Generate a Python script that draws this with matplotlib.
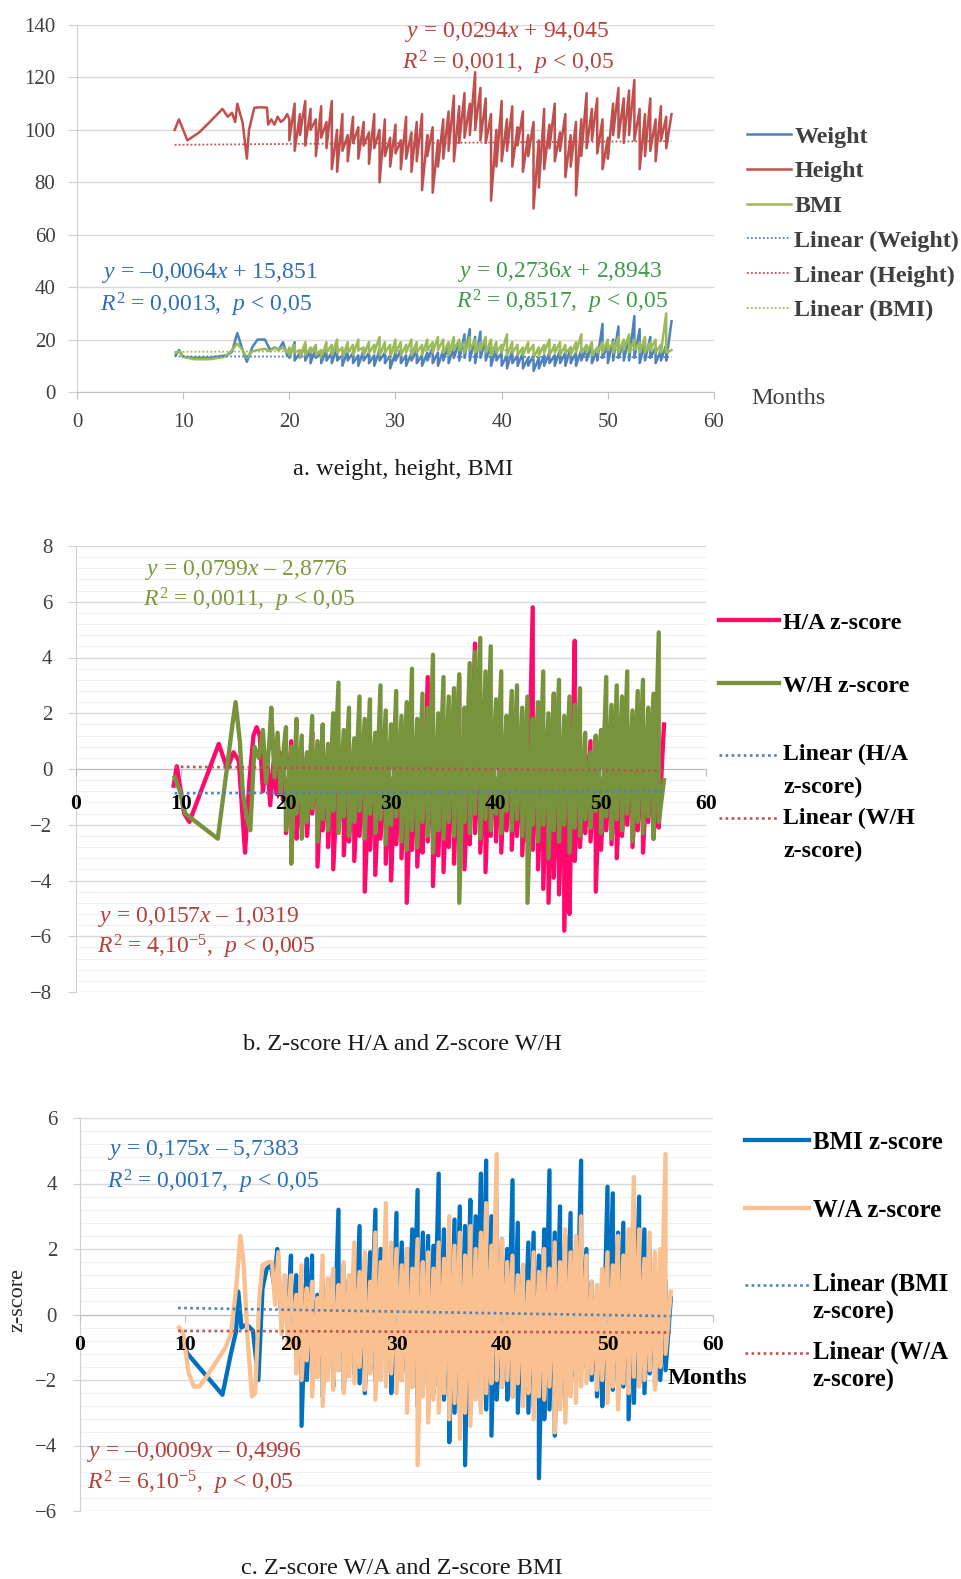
import numpy as np
import matplotlib
matplotlib.use('Agg')
from matplotlib import pyplot as plt
from matplotlib.ticker import MultipleLocator
from matplotlib.legend_handler import HandlerLine2D

plt.rcParams['font.family'] = ['Liberation Serif', 'DejaVu Serif']
plt.rcParams['mathtext.fontset'] = 'custom'
plt.rcParams['mathtext.rm'] = 'Liberation Serif'
plt.rcParams['mathtext.it'] = 'Liberation Serif:italic'
plt.rcParams['mathtext.bf'] = 'Liberation Serif:bold'

W, H = 962, 1579

# from month 20 to 56 the measurements are dense: two values (children) every half month
DENSE_START, DENSE_STEP = 20, 0.5

# ---------------- a. weight, height, BMI ----------------
height_early_x = [9.2, 9.6, 9.9, 10.4, 11.5, 12.5, 13.7, 14.2, 14.6, 14.9, 15.1, 15.6,
                  16.0, 16.2, 16.7, 17.2, 17.9, 18.0, 18.3, 18.6, 18.9, 19.2, 19.5, 19.8]
height_early_y = [100, 104, 101, 96, 99, 103, 108, 105, 106.5, 103, 110, 102.7,
                  89, 100, 108.4, 108.6, 108.5, 102, 104, 102, 105, 103, 104, 106]
height_dense = [
    104, 96, 110, 92, 106, 98, 111, 94, 108, 100, 104, 90, 109, 97, 103, 93,
    111, 85, 100, 84, 106, 92, 98, 88, 105, 95, 101, 89, 103, 94, 99, 87,
    106, 93, 100, 80, 104, 90, 97, 86, 102, 91, 96, 85, 105, 89, 99, 84,
    103, 88, 106, 77, 98, 90, 101, 76, 96, 86, 104, 89, 107, 92, 113, 88,
    109, 95, 114, 97, 110, 98, 122, 100, 116, 96, 112, 95, 106, 73, 100, 86,
    111, 88, 104, 92, 109, 86, 101, 94, 107, 84, 98, 90, 103, 70, 96, 78,
    108, 85, 102, 93, 110, 88, 99, 92, 106, 82, 98, 86, 103, 75, 104, 90,
    114, 93, 108, 96, 112, 91, 104, 85, 97, 89, 110, 98, 116, 97, 112, 95,
    115, 98, 119, 96, 108, 85, 106, 90, 112, 92, 104, 88, 109, 96, 105, 93,
    106]

weight_early_x = [9.3, 9.6, 10.0, 11.0, 12.5, 14.1, 14.6, 15.1, 15.6, 16.0, 16.5, 17.0,
                  17.7, 18.2, 18.6, 19.0, 19.4, 19.8]
weight_early_y = [14, 16, 13.4, 13, 13, 14, 15.3, 22.5, 16, 11.5, 17, 20,
                  20, 16, 17, 16, 19, 14]
weight_dense = [
    16, 13, 19, 12, 15, 13, 18, 12, 16, 11, 17, 13, 15, 11, 16, 12,
    15, 11, 17, 12, 14, 10, 16, 12, 15, 11, 14, 10, 16, 12, 15, 11,
    14, 10, 16, 12, 15, 11, 14, 9, 15, 12, 16, 11, 14, 10, 15, 12,
    16, 11, 14, 10, 15, 12, 17, 11, 15, 10, 16, 12, 18, 11, 17, 13,
    19, 12, 22, 13, 24, 12, 21, 11, 23, 13, 20, 12, 18, 10, 17, 12,
    15, 10, 14, 9, 16, 11, 14, 10, 15, 9, 13, 10, 14, 8, 13, 9,
    14, 10, 15, 11, 14, 10, 16, 11, 15, 10, 17, 11, 15, 10, 16, 12,
    17, 12, 18, 11, 16, 12, 26, 13, 18, 11, 20, 12, 25, 13, 19, 12,
    21, 12, 29, 13, 24, 11, 19, 12, 21, 13, 17, 11, 16, 12, 18, 12,
    27]

bmi_early_x = [9.3, 9.6, 10.0, 11.0, 12.5, 14.0, 14.6, 15.1, 15.6, 16.0, 16.5, 17.0,
               17.7, 18.2, 18.6, 19.0, 19.4, 19.8]
bmi_early_y = [15, 15.5, 13.5, 12.5, 12.5, 13.5, 16, 18.5, 16, 13, 15.5, 16,
               16.5, 15.5, 17, 16, 17, 15]
bmi_dense = [
    17, 14, 18, 15, 16, 13, 19, 14, 17, 15, 18, 14, 16, 13, 19, 15,
    18, 14, 20, 15, 17, 13, 19, 15, 18, 14, 20, 16, 17, 14, 19, 15,
    18, 15, 21, 14, 19, 15, 18, 13, 20, 15, 19, 14, 18, 15, 20, 14,
    19, 15, 18, 14, 20, 16, 19, 15, 21, 16, 20, 15, 19, 14, 21, 16,
    20, 16, 19, 15, 21, 16, 20, 15, 19, 16, 21, 15, 20, 14, 19, 15,
    18, 15, 22, 14, 19, 15, 18, 14, 17, 14, 19, 15, 18, 13, 17, 14,
    18, 15, 20, 14, 18, 15, 19, 14, 18, 15, 17, 14, 19, 15, 22, 15,
    18, 15, 19, 14, 17, 15, 19, 15, 20, 16, 19, 15, 21, 15, 20, 16,
    22, 15, 20, 16, 19, 15, 21, 15, 19, 16, 20, 15, 18, 15, 30, 15,
    16]

trend_a_x = [9.2, 56.0]
trend_height = [94.3, 95.7]
trend_weight = [13.6, 13.3]
trend_bmi = [15.3, 16.2]

# ---------------- b. Z-score H/A and Z-score W/H ----------------
ha_early_x = [9.3, 9.6, 9.9, 10.3, 10.8, 13.6, 14.4, 15.0, 15.5, 16.1, 16.5, 16.9,
              17.2, 17.5, 17.8, 18.2, 18.5, 18.8, 19.1, 19.4, 19.7]
ha_early_y = [-0.6, 0.1, -0.6, -1.6, -1.9, 0.9, 0.0, 0.6, 0.3, -3.0, -0.5, 1.2,
              1.5, 1.2, -0.8, 0.4, -1.3, 0.2, -0.9, 0.6, -1.1]
ha_dense = [
    0.4, -2.3, 1.0, -1.8, 0.2, -2.5, 0.8, -2.1, 0.5, -2.4, 1.3, -1.6, 0.6, -3.5, 0.9, -2.2,
    0.3, -2.8, 1.1, -3.6, 0.4, -2.2, 0.8, -3.1, 0.2, -2.6, 1.0, -3.3, 0.5, -2.4, 0.7, -4.4,
    0.3, -2.9, 1.2, -3.8, 0.6, -2.5, 0.9, -3.4, 0.1, -4.0, 1.1, -2.7, 0.4, -3.2, 0.8, -4.8,
    0.5, -2.9, 1.3, -3.5, 0.7, -3.0, 3.3, -2.6, 0.9, -4.2, 1.4, -3.1, 0.6, -3.7, 1.0, -2.8,
    1.2, -3.4, 3.3, -3.0, 0.8, -3.6, 1.5, -2.7, 4.5, -2.3, 1.1, -3.0, 0.7, -3.7, 1.6, -2.4,
    2.0, -2.6, 0.9, -3.0, 1.4, -2.2, 0.6, -2.9, 1.1, -2.4, 0.8, -3.1, 1.3, -2.6, 5.8, -2.9,
    1.0, -3.6, 0.7, -4.3, 1.5, -4.8, 2.7, -3.9, 0.8, -4.5, 1.2, -5.8, 0.9, -5.2, 4.6, -3.3,
    1.3, -2.8, 0.5, -2.3, 1.0, -2.6, 0.4, -4.4, 0.9, -2.9, 0.6, -2.2, 1.1, -2.7, 0.5, -3.2,
    0.8, -2.4, 0.6, -2.0, 1.0, -2.8, 0.4, -2.2, 0.7, -3.0, 0.9, -1.9, 0.5, -2.5, 0.6, -2.1,
    1.6]

wh_early_x = [9.4, 9.9, 10.4, 13.5, 14.4, 14.9, 15.2, 15.6, 15.9, 16.3, 16.6, 17.0,
              17.4, 17.8, 18.1, 18.4, 18.6, 18.9, 19.2, 19.5, 19.8]
wh_early_y = [-0.3, -0.8, -1.6, -2.5, 0.1, 1.6, 2.4, 1.0, -0.9, -1.8, -2.2, 0.8,
              0.4, 1.4, -0.5, 0.9, 2.2, -0.3, 1.3, -0.9, 0.8]
wh_dense = [
    1.5, -2.2, 0.8, -3.4, 1.8, -1.6, 1.2, -2.5, 0.6, -1.9, 1.9, -1.4, 1.0, -2.6, 1.6, -1.8,
    0.9, -2.2, 2.0, -1.5, 3.1, -2.3, 1.4, -1.7, 2.2, -2.4, 1.1, -1.9, 2.6, -1.5, 1.8, -2.5,
    2.5, -1.6, 1.3, -2.3, 3.0, -1.8, 2.1, -2.7, 1.6, -2.0, 2.8, -1.7, 1.9, -2.6, 2.4, -2.9,
    3.6, -2.2, 1.8, -2.8, 2.7, -1.9, 2.2, -2.4, 4.1, -3.0, 2.0, -2.2, 3.3, -2.5, 2.6, -1.9,
    2.9, -2.4, 3.4, -4.8, 2.2, -1.9, 3.8, -2.3, 4.2, -1.6, 4.7, -2.5, 3.5, -1.8, 4.4, -2.2,
    2.5, -1.6, 3.5, -2.3, 1.9, -1.5, 2.8, -2.2, 3.0, -1.8, 2.2, -2.4, 2.6, -4.8, 1.8, -2.0,
    2.4, -2.6, 3.5, -2.0, 2.0, -3.2, 2.7, -2.2, 3.2, -2.6, 1.9, -2.0, 2.6, -3.0, 2.3, -2.1,
    2.9, -2.4, 1.3, -1.8, 0.6, -2.1, 1.2, -1.5, 1.4, -2.3, 3.3, -1.7, 2.3, -2.5, 3.0, -1.8,
    2.6, -2.2, 3.5, -1.6, 2.1, -2.6, 2.8, -1.9, 3.2, -2.3, 2.2, -1.7, 2.7, -2.5, 4.9, -1.9,
    -0.4]

trend_b_x = [9.4, 56.0]
trend_ha = [-0.87, -0.80]
trend_wh = [0.08, -0.06]

# ---------------- c. Z-score W/A and Z-score BMI ----------------
bmiz_early_x = [9.6, 10.2, 13.5, 14.3, 14.8, 15.0, 15.3, 15.8, 16.4, 16.9, 17.3, 17.7,
                18.1, 18.4, 18.7, 19.0, 19.3, 19.7]
bmiz_early_y = [-0.8, -1.2, -2.45, -1.2, -0.5, 0.7, -0.4, -0.3, -0.5, -2.0, 0.8, 1.4,
                1.5, 0.9, 2.0, 0.2, 0.4, -0.1]
bmiz_dense = [
    1.8, -1.0, 1.2, -1.5, 0.9, -3.4, 1.7, -2.0, 1.8, -1.4, 0.6, -1.9, 1.0, -2.5, 0.7, -1.6,
    1.3, -2.2, 3.2, -1.7, 1.5, -2.3, 1.1, -1.5, 1.4, -1.8, 2.7, -2.1, 1.5, -2.4, 1.9, -1.7,
    3.2, -2.0, 2.0, -1.5, 2.8, -1.9, 1.7, -2.4, 3.1, -1.8, 2.2, -2.0, 2.0, -1.8, 2.6, -2.2,
    3.8, -2.8, 2.5, -2.3, 2.4, -2.9, 2.1, -2.4, 4.3, -2.2, 2.6, -2.6, 1.4, -3.9, 2.9, -3.0,
    3.3, -3.0, 2.7, -4.6, 3.5, -3.0, 3.0, -2.5, 4.3, -2.8, 4.7, -2.9, 3.0, -3.7, 3.5, -2.6,
    2.3, -2.2, 2.0, -2.6, 4.1, -2.5, 2.8, -3.0, 1.5, -2.4, 2.2, -3.0, 2.5, -2.8, 1.8, -5.0,
    2.6, -3.2, 4.4, -2.9, 2.5, -3.7, 3.3, -2.6, 2.4, -2.8, 3.1, -2.4, 2.0, -1.9, 4.7, -1.0,
    2.0, -1.6, 1.0, -2.0, 0.5, -2.5, 0.3, -2.8, 3.9, -2.0, 3.7, -2.3, 2.5, -2.6, 2.8, -2.2,
    2.1, -3.2, 2.5, -2.7, 3.6, -2.1, 2.6, -2.4, 2.0, -1.8, 1.2, -2.2, 0.9, -2.0, 1.0, -1.7,
    0.5]

wa_early_x = [9.4, 9.8, 10.3, 10.8, 11.3, 12.0, 13.0, 13.8, 14.3, 14.8, 15.2, 15.5,
              15.9, 16.3, 16.6, 17.0, 17.3, 17.8, 18.2, 18.5, 18.8, 19.1, 19.4, 19.7]
wa_early_y = [-0.4, -0.6, -1.8, -2.2, -2.2, -1.9, -1.4, -1.0, -0.6, 0.8, 2.4, 1.6,
              -0.8, -2.5, -2.4, 0.5, 1.5, 1.6, 1.6, 0.3, 1.9, -0.6, 1.2, -1.0]
wa_dense = [
    1.2, -1.0, 0.6, -1.8, 1.5, -2.0, 0.8, -1.4, 1.0, -2.5, 0.5, -1.9, 1.8, -2.8, 1.1, -2.0,
    1.4, -2.3, 0.9, -1.7, 1.6, -2.4, 1.2, -1.9, 2.2, -2.1, 1.3, -1.6, 1.9, -2.3, 1.0, -1.8,
    2.5, -2.6, 1.6, -2.0, 3.4, -2.2, 2.2, -1.8, 2.0, -2.4, 1.5, -2.0, 2.0, -3.0, 1.4, -2.2,
    2.3, -4.6, 1.6, -2.5, 1.9, -3.3, 1.4, -2.6, 2.2, -3.0, 1.7, -2.4, 3.0, -3.2, 2.1, -2.7,
    2.5, -3.8, 1.8, -3.0, 2.7, -3.4, 2.0, -2.6, 2.5, -3.0, 3.4, -2.4, 2.1, -2.1, 4.9, -2.0,
    2.3, -2.2, 1.6, -2.0, 1.8, -2.5, 1.2, -2.1, 1.5, -2.8, 1.0, -2.4, 1.9, -3.2, 1.3, -2.5,
    2.0, -2.6, 1.4, -2.2, 2.2, -3.6, 1.6, -2.9, 2.6, -3.3, 1.9, -2.5, 2.4, -2.7, 3.0, -2.2,
    1.8, -2.1, 1.0, -1.8, 0.9, -2.3, 1.4, -2.0, 1.9, -2.7, 1.5, -2.2, 2.4, -2.9, 1.8, -2.1,
    2.6, -2.4, 4.2, -1.9, 2.6, -2.2, 1.7, -2.0, 2.5, -1.7, 1.9, -2.3, 2.0, -1.6, 4.9, -1.2,
    0.7]

trend_c_x = [9.3, 56.0]
trend_bmiz = [0.2, -0.05]
trend_wa = [-0.5, -0.55]

month_ticks = [0, 10, 20, 30, 40, 50, 60]


def join(early_x, early_y, dense):
    # dense values come in pairs measured at the same age
    dense_x = DENSE_START + DENSE_STEP * (np.arange(len(dense)) // 2)
    return list(early_x) + list(dense_x), list(early_y) + list(dense)


def fx(px):
    return px / W


def fy(py):
    return 1 - py / H


class FirstLineHandler(HandlerLine2D):
    # puts the legend line next to the first line of a two line label
    def __init__(self, shift, **kw):
        super().__init__(**kw)
        self.shift = shift

    def create_artists(self, legend, orig_handle, xdescent, ydescent, width, height, fontsize, trans):
        arts = super().create_artists(legend, orig_handle, xdescent, ydescent, width, height, fontsize, trans)
        for art in arts:
            art.set_ydata(np.asarray(art.get_ydata()) + self.shift * fontsize)
        return arts


def base_style(ax, ymin, ymax, ystep):
    ax.set_xlim(0, 60)
    ax.set_ylim(ymin, ymax)
    ax.set_yticks(np.arange(ymin, ymax + ystep / 2, ystep))
    ax.set_facecolor('none')
    for s in ['top', 'right']:
        ax.spines[s].set_visible(False)
    ax.spines['left'].set_color('#D0D0D0')
    ax.spines['bottom'].set_color('#BFBFBF')
    ax.set_axisbelow(True)
    ax.grid(axis='y', which='major', color='#D9D9D9', lw=1.0)
    ax.grid(axis='x', visible=False)


fig = plt.figure(figsize=(W / 100, H / 100), dpi=100)
EQ = dict(size=17, ha='left', va='center')

# ---- panel a ----
ax = fig.add_axes([fx(77), fy(392), fx(714) - fx(77), fy(25) - fy(392)])
base_style(ax, 0, 140, 20)
ax.set_xticks(month_ticks)
ax.tick_params(axis='y', length=6.5, color='#D0D0D0', pad=9, labelsize=15, labelcolor='#404040')
ax.tick_params(axis='x', length=5, color='#BFBFBF', pad=10, labelsize=15, labelcolor='#404040')

x, y = join(weight_early_x, weight_early_y, weight_dense)
l_w, = ax.plot(x, y, color='#4F81BD', lw=1.8, label='Weight')
x, y = join(height_early_x, height_early_y, height_dense)
l_h, = ax.plot(x, y, color='#C0504D', lw=1.8, label='Height')
x, y = join(bmi_early_x, bmi_early_y, bmi_dense)
l_b, = ax.plot(x, y, color='#9BBB59', lw=1.8, label='BMI')
dots = (0, (1, 1.2))
t_w, = ax.plot(trend_a_x, trend_weight, color='#4F81BD', lw=1.3, ls=dots, label='Linear (Weight)', zorder=3)
t_h, = ax.plot(trend_a_x, trend_height, color='#C0504D', lw=1.3, ls=dots, label='Linear (Height)', zorder=3)
t_b, = ax.plot(trend_a_x, trend_bmi, color='#9BBB59', lw=1.3, ls=dots, label='Linear (BMI)', zorder=3)

leg = ax.legend(handles=[l_w, l_h, l_b, t_w, t_h, t_b], loc='upper left',
                bbox_to_anchor=(fx(747), fy(126)), bbox_transform=fig.transFigure,
                frameon=False, borderpad=0, borderaxespad=0, handlelength=1.85,
                handletextpad=0.12, labelspacing=0.535,
                prop={'family': 'Liberation Serif', 'weight': 'bold', 'size': 17.3})
for t in leg.get_texts():
    t.set_color('#404040')

fig.text(fx(751), fy(398), 'Months', size=17.5, color='#404040', ha='left', va='center')
fig.text(fx(405), fy(32), r'$y$ = 0,0294$x$ + 94,045', color='#B8433F', **EQ)
fig.text(fx(402), fy(63), r'$R^2$ = 0,0011,  $p$ < 0,05', color='#B8433F', **EQ)
fig.text(fx(102), fy(273), r'$y$ = –0,0064$x$ + 15,851', color='#2F6EB5', **EQ)
fig.text(fx(100), fy(305), r'$R^2$ = 0,0013,  $p$ < 0,05', color='#2F6EB5', **EQ)
fig.text(fx(458), fy(272), r'$y$ = 0,2736$x$ + 2,8943', color='#3C9A48', **EQ)
fig.text(fx(456), fy(302), r'$R^2$ = 0,8517,  $p$ < 0,05', color='#3C9A48', **EQ)
fig.text(fx(403), fy(470), 'a. weight, height, BMI', size=17.5, color='#1A1A1A', ha='center', va='center')

# ---- panel b ----
ax = fig.add_axes([fx(76), fy(992), fx(706) - fx(76), fy(546) - fy(992)])
base_style(ax, -8, 8, 2)
ax.yaxis.set_minor_locator(MultipleLocator(0.4))
ax.grid(axis='y', which='minor', color='#F0F0F0', lw=0.8)
ax.spines['bottom'].set_position(('data', 0))
ax.spines['bottom'].set_zorder(0.6)
ax.set_xticks(month_ticks)
ax.set_xticklabels([str(m) for m in month_ticks], fontweight='bold', color='black')
ax.xaxis.set_zorder(5)
ax.tick_params(axis='y', which='major', length=6, color='#D0D0D0', pad=11, labelsize=15, labelcolor='#404040')
ax.tick_params(axis='y', which='minor', length=0)
ax.tick_params(axis='x', length=5, color='#BFBFBF', pad=13, labelsize=15.6)

x, y = join(ha_early_x, ha_early_y, ha_dense)
l_ha, = ax.plot(x, y, color='#FF0A6C', lw=3.1, label='H/A z-score')
x, y = join(wh_early_x, wh_early_y, wh_dense)
l_wh, = ax.plot(x, y, color='#77933C', lw=3.1, label='W/H z-score')
dots = (0, (1, 1.3))
t_ha, = ax.plot(trend_b_x, trend_ha, color='#4F81BD', lw=1.9, ls=dots, label='Linear (H/A\nz-score)', zorder=3)
t_wh, = ax.plot(trend_b_x, trend_wh, color='#C0504D', lw=1.9, ls=dots, label='Linear (W/H\nz-score)', zorder=3)

legb = dict(frameon=False, borderpad=0, borderaxespad=0, handlelength=2.5, handletextpad=0.2,
            bbox_transform=fig.transFigure, loc='upper left',
            prop={'family': 'Liberation Serif', 'weight': 'bold', 'size': 17.2})
leg1 = ax.legend(handles=[l_ha, l_wh], bbox_to_anchor=(fx(719), fy(612)), labelspacing=1.72, **legb)
ax.add_artist(leg1)
leg2 = ax.legend(handles=[t_ha, t_wh], bbox_to_anchor=(fx(719), fy(744)), labelspacing=0.42,
                 handler_map={t_ha: FirstLineHandler(0.67), t_wh: FirstLineHandler(0.67)}, **legb)
for t in leg2.get_texts():
    t.set_linespacing(1.71)

fig.text(fx(145), fy(570), r'$y$ = 0,0799$x$ – 2,8776', color='#7A9A3A', **EQ)
fig.text(fx(143), fy(600), r'$R^2$ = 0,0011,  $p$ < 0,05', color='#7A9A3A', **EQ)
fig.text(fx(98), fy(917), r'$y$ = 0,0157$x$ – 1,0319', color='#B5403C', **EQ)
fig.text(fx(97), fy(947), r'$R^2$ = 4,10$^{-5}$,  $p$ < 0,005', color='#B5403C', **EQ)
fig.text(fx(402), fy(1044), 'b. Z-score H/A and Z-score W/H', size=17.5, color='#1A1A1A', ha='center', va='center')

# ---- panel c ----
ax = fig.add_axes([fx(80), fy(1511), fx(713) - fx(80), fy(1118) - fy(1511)])
base_style(ax, -6, 6, 2)
ax.yaxis.set_minor_locator(MultipleLocator(0.4))
ax.grid(axis='y', which='minor', color='#F0F0F0', lw=0.8)
ax.spines['bottom'].set_position(('data', 0))
ax.spines['bottom'].set_zorder(0.6)
ax.set_xticks(month_ticks)
ax.set_xticklabels([str(m) for m in month_ticks], fontweight='bold', color='black')
ax.xaxis.set_zorder(5)
ax.tick_params(axis='y', which='major', length=5, color='#D0D0D0', pad=11.5, labelsize=15, labelcolor='#404040')
ax.tick_params(axis='y', which='minor', length=0)
ax.tick_params(axis='x', length=5, color='#BFBFBF', pad=9.5, labelsize=15.6)

x, y = join(bmiz_early_x, bmiz_early_y, bmiz_dense)
l_bz, = ax.plot(x, y, color='#0070C0', lw=3.1, label='BMI z-score')
x, y = join(wa_early_x, wa_early_y, wa_dense)
l_wa, = ax.plot(x, y, color='#FAC090', lw=3.1, label='W/A z-score')
t_bz, = ax.plot(trend_c_x, trend_bmiz, color='#4F81BD', lw=1.9, ls=dots, label='Linear (BMI\nz-score)', zorder=3)
t_wa, = ax.plot(trend_c_x, trend_wa, color='#C0504D', lw=1.9, ls=dots, label='Linear (W/A\nz-score)', zorder=3)

legc = dict(frameon=False, borderpad=0, borderaxespad=0, handlelength=2.6, handletextpad=0.15,
            bbox_transform=fig.transFigure, loc='upper left',
            prop={'family': 'Liberation Serif', 'weight': 'bold', 'size': 17.8})
leg1 = ax.legend(handles=[l_bz, l_wa], bbox_to_anchor=(fx(745), fy(1131)), labelspacing=1.82, **legc)
ax.add_artist(leg1)
leg2 = ax.legend(handles=[t_bz, t_wa], bbox_to_anchor=(fx(745), fy(1273)), labelspacing=0.69,
                 handler_map={t_bz: FirstLineHandler(0.55), t_wa: FirstLineHandler(0.55)}, **legc)
for t in leg2.get_texts():
    t.set_linespacing(1.23)

fig.text(fx(668), fy(1378), 'Months', size=17.5, weight='bold', color='black', ha='left', va='center')
fig.text(fx(18), fy(1300), 'z-score', size=16, rotation=90, color='#262626', ha='center', va='center')
fig.text(fx(108), fy(1150), r'$y$ = 0,175$x$ – 5,7383', color='#2C6FB7', **EQ)
fig.text(fx(107), fy(1182), r'$R^2$ = 0,0017,  $p$ < 0,05', color='#2C6FB7', **EQ)
fig.text(fx(87), fy(1452), r'$y$ = –0,0009$x$ – 0,4996', color='#B5403C', **EQ)
fig.text(fx(87), fy(1483), r'$R^2$ = 6,10$^{-5}$,  $p$ < 0,05', color='#B5403C', **EQ)
fig.text(fx(402), fy(1569), 'c. Z-score W/A and Z-score BMI', size=17.5, color='#1A1A1A', ha='center', va='center')

fig.savefig('out.png', dpi=100)
